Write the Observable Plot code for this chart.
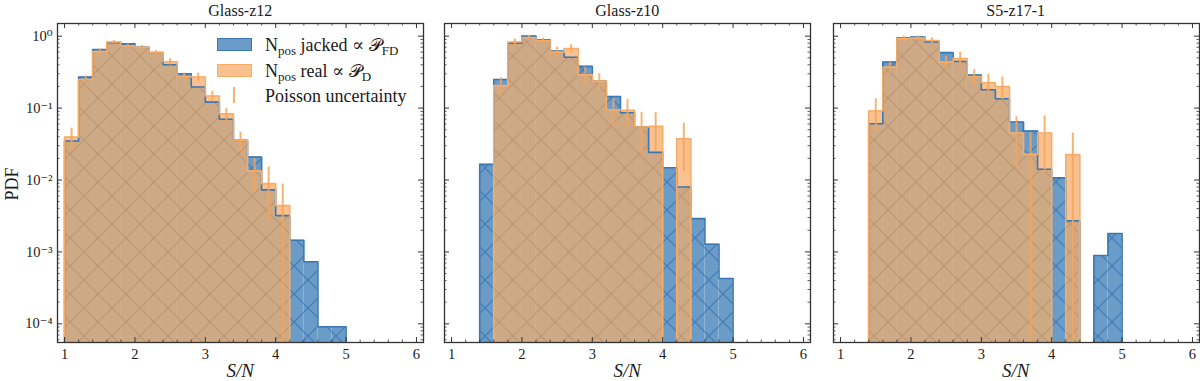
<!DOCTYPE html>
<html><head><meta charset="utf-8">
<script src="https://cdn.jsdelivr.net/npm/d3@7"></script>
<script src="https://cdn.jsdelivr.net/npm/@observablehq/plot@0.6"></script>
<style>
body{margin:0;background:#fff;}
#wrap{position:relative;width:1200px;height:381px;overflow:hidden;font-family:"Liberation Serif","DejaVu Serif",serif;color:#1a1a1a;}
.panel{position:absolute;top:0;}
.title{position:absolute;top:11px;font-size:16px;transform:translate(-50%,-50%);white-space:nowrap;}
.xlab{position:absolute;top:371px;font-size:19px;font-style:italic;transform:translate(-50%,-50%);white-space:nowrap;}
.ylab{position:absolute;left:12px;top:184px;font-size:18px;transform:translate(-50%,-50%) rotate(-90deg);white-space:nowrap;}
.leg{position:absolute;left:217px;top:36px;font-size:18px;width:200px;height:70px;}
.sw{position:absolute;left:0;width:33px;height:11px;}
.lt{position:absolute;left:48px;transform:translateY(-50%);white-space:nowrap;line-height:20px;}
.lt sub{font-size:13px;vertical-align:-4px;line-height:0;}
</style></head><body>
<svg width="0" height="0" style="position:absolute">
<defs>
<pattern id="hatchBlue" patternUnits="userSpaceOnUse" width="28" height="28">
<path d="M0,0L28,28M28,0L0,28" stroke="#3f7ab6" stroke-width="1.1" fill="none"/>
</pattern>
<pattern id="hatchTan" patternUnits="userSpaceOnUse" width="28" height="28">
<path d="M0,0L28,28M28,0L0,28" stroke="#bb9672" stroke-width="1.1" fill="none"/>
</pattern>
</defs>
</svg>
<div id="wrap"></div>
<script>
// ---- data ----
const binEdges = [1.0,1.2,1.4,1.6,1.8,2.0,2.2,2.4,2.6,2.8,3.0,3.2,3.4,3.6,3.8,4.0,4.2,4.4,4.6,4.8,5.0];
const panelTitles = ["Glass-z12","Glass-z10","S5-z17-1"];
const xTickLabels = [1,2,3,4,5,6];
const yTickValues = [1,0.1,0.01,0.001,0.0001];

const z12Jacked = [0.0348,0.27,0.65,0.81,0.78,0.70,0.59,0.40,0.30,0.196,0.121,0.070,0.0356,0.0209,0.0073,0.0032,0.00145,0.00073,0.000091,0.000091];
const z12Real   = [0.0395,0.25,0.61,0.83,0.73,0.70,0.59,0.44,0.275,0.27,0.147,0.083,0.0356,0.0133,0.0089,0.0044,0,0,0,0];
const z12RelErr = [0.33,0.12,0.09,0.05,0.06,0.06,0.07,0.10,0.11,0.13,0.17,0.20,0.30,0.50,0.70,1.0,0,0,0,0];

const z10Jacked = [0,0,0.0165,0.25,0.80,1.0,0.89,0.62,0.51,0.38,0.237,0.145,0.086,0.0545,0.0242,0.0148,0.008,0.0029,0.00128,0.000426];
const z10Real   = [0,0,0,0.206,0.83,0.96,0.87,0.60,0.67,0.29,0.237,0.095,0.093,0.0545,0.0556,0,0.0375,0,0,0];
const z10RelErr = [0,0,0,0.28,0.10,0.07,0.08,0.17,0.14,0.28,0.27,0.42,0.42,0.60,0.55,0,0.65,0,0,0];

const s5Jacked = [0,0,0.0606,0.435,0.94,0.97,0.83,0.59,0.445,0.287,0.18,0.135,0.064,0.048,0.0141,0.0107,0.0027,0,0.00089,0.0018];
const s5Real   = [0,0,0.091,0.37,0.92,0.94,0.87,0.435,0.49,0.275,0.225,0.20,0.045,0.0227,0.045,0,0.0225,0,0,0];
const s5RelErr = [0,0,0.48,0.17,0.09,0.08,0.09,0.20,0.22,0.25,0.30,0.35,0.68,1.0,0.72,0,1.0,0,0,0];

// ---- style ----
const BLUE = "#6b9bc7", BLUE_EDGE = "#3a77b3";
const ORANGE = "#f9c18f", ORANGE_EDGE = "#f6ad68";
const TAN = "#cda985", ERR = "#f7a458";
const AX = "#333";
const FLOOR = 1e-7;
const XD = [0.9, 6.1], YD = [5.5e-5, 1.5];
const MT = 23, MB = 39, H = 381, FW = 366;
const FH = H - MT - MB;

function bars(vals){ return vals.map((v,i)=>({x1:binEdges[i],x2:binEdges[i+1],v})).filter(d=>d.v>0); }
function overlap(a,b){ return a.map((v,i)=>({x1:binEdges[i],x2:binEdges[i+1],v:Math.min(v,b[i])})).filter(d=>d.v>0); }
function outline(vals){
  let first = vals.findIndex(v=>v>0), last = vals.length-1; while(last>=0 && !(vals[last]>0)) last--;
  const pts=[{x:binEdges[first],y:FLOOR}];
  for(let i=first;i<=last;i++) pts.push({x:binEdges[i],y:vals[i]>0?vals[i]:FLOOR});
  pts.push({x:binEdges[last+1],y:vals[last]});
  pts.push({x:binEdges[last+1],y:FLOOR});
  return pts;
}
function errs(vals,rel){
  return vals.map((v,i)=>({x:(binEdges[i]+binEdges[i+1])/2,lo:v*(1-rel[i]) > 0 ? v*(1-rel[i]) : FLOOR,hi:v*(1+rel[i]),v,r:rel[i]})).filter(d=>d.v>0 && d.r>0);
}
const xMinor = d3.range(0,31).map(i=>+(0.8+i*0.2).toFixed(1)).filter(v=>v>XD[0]&&v<XD[1]&&Math.abs(v-Math.round(v))>1e-6);
const yMinor = [];
for(let e=-5;e<=0;e++) for(let k=2;k<=9;k++){const v=k*Math.pow(10,e); if(v>YD[0]&&v<YD[1]) yMinor.push(v);}
const supMap={"-":"\u207B","0":"\u2070","1":"\u00B9","2":"\u00B2","3":"\u00B3","4":"\u2074"};
const fmtY = d => "10" + String(Math.round(Math.log10(d))).split("").map(c=>supMap[c]).join("");

function panel(jacked, real, rel, showY, mL, mR){
  const marks = [
    Plot.rect(bars(jacked),{x1:"x1",x2:"x2",y1:FLOOR,y2:"v",fill:BLUE,clip:true}),
    Plot.rect(bars(jacked),{x1:"x1",x2:"x2",y1:FLOOR,y2:"v",fill:"url(#hatchBlue)",clip:true}),
    Plot.rect(bars(real),{x1:"x1",x2:"x2",y1:FLOOR,y2:"v",fill:ORANGE,clip:true}),
    Plot.rect(overlap(jacked,real),{x1:"x1",x2:"x2",y1:FLOOR,y2:"v",fill:TAN,clip:true}),
    Plot.rect(overlap(jacked,real),{x1:"x1",x2:"x2",y1:FLOOR,y2:"v",fill:"url(#hatchTan)",clip:true}),
    Plot.line(outline(jacked),{x:"x",y:"y",curve:"step-after",stroke:BLUE_EDGE,strokeWidth:1.6,clip:true}),
    Plot.line(outline(real),{x:"x",y:"y",curve:"step-after",stroke:ORANGE_EDGE,strokeWidth:1.6,clip:true}),
    Plot.ruleX(errs(real,rel),{x:"x",y1:"lo",y2:"hi",stroke:ERR,strokeWidth:2,strokeOpacity:0.85,clip:true}),
    // inward ticks
    Plot.ruleX(xTickLabels,{x:d=>d,insetTop:FH-5,stroke:AX,strokeWidth:1}),
    Plot.ruleX(xTickLabels,{x:d=>d,insetBottom:FH-5,stroke:AX,strokeWidth:1}),
    Plot.ruleX(xMinor,{x:d=>d,insetTop:FH-2.5,stroke:AX,strokeWidth:0.8}),
    Plot.ruleX(xMinor,{x:d=>d,insetBottom:FH-2.5,stroke:AX,strokeWidth:0.8}),
    Plot.ruleY(yTickValues,{y:d=>d,insetRight:FW-5,stroke:AX,strokeWidth:1}),
    Plot.ruleY(yTickValues,{y:d=>d,insetLeft:FW-5,stroke:AX,strokeWidth:1}),
    Plot.ruleY(yMinor,{y:d=>d,insetRight:FW-2.5,stroke:AX,strokeWidth:0.8}),
    Plot.ruleY(yMinor,{y:d=>d,insetLeft:FW-2.5,stroke:AX,strokeWidth:0.8}),
    Plot.frame({stroke:AX,strokeWidth:1.3}),
    Plot.axisX({ticks:xTickLabels,tickSize:0,tickPadding:6,label:null,fontSize:14.5,tickFormat:d=>String(d)})
  ];
  if(showY) marks.push(Plot.axisY({ticks:yTickValues,tickSize:0,tickPadding:5,label:null,fontSize:14.5,tickFormat:fmtY}));
  else marks.push(Plot.axisY({ticks:[],label:null}));
  return Plot.plot({
    width: mL+FW+mR, height: H,
    marginLeft: mL, marginRight: mR, marginTop: MT, marginBottom: MB,
    x:{domain:XD}, y:{type:"log",domain:YD},
    style:{fontFamily:'"Liberation Serif","DejaVu Serif",serif',fontSize:"14.5px",color:"#1a1a1a",background:"transparent",overflow:"visible"},
    marks
  });
}

const wrap = document.getElementById("wrap");
const frameLefts = [57.3, 444.3, 832.7];
const specs = [[z12Jacked,z12Real,z12RelErr,true,57,8],[z10Jacked,z10Real,z10RelErr,false,15,8],[s5Jacked,s5Real,s5RelErr,false,15,8]];
specs.forEach((s,i)=>{
  const svg = panel(...s);
  svg.classList.add("panel");
  svg.style.left = (frameLefts[i]-s[4])+"px";
  wrap.appendChild(svg);
  const t = document.createElement("div"); t.className="title"; t.textContent=panelTitles[i];
  t.style.left=(frameLefts[i]+FW/2)+"px"; wrap.appendChild(t);
  const xl = document.createElement("div"); xl.className="xlab"; xl.textContent="S/N";
  xl.style.left=(frameLefts[i]+FW/2)+"px"; wrap.appendChild(xl);
});
const yl = document.createElement("div"); yl.className="ylab"; yl.textContent="PDF"; wrap.appendChild(yl);

// legend
const leg = document.createElement("div"); leg.className="leg";
leg.innerHTML = `
<div class="sw" style="top:2px;background:${BLUE};border:1.5px solid ${BLUE_EDGE};"></div>
<div class="lt" style="top:9px;">N<sub>pos</sub> jacked&nbsp;\u221D&nbsp;\uD835\uDCAB<sub>FD</sub></div>
<div class="sw" style="top:28px;background:${ORANGE};border:1.5px solid ${ORANGE_EDGE};"></div>
<div class="lt" style="top:35px;">N<sub>pos</sub> real&nbsp;\u221D&nbsp;\uD835\uDCAB<sub>D</sub></div>
<div style="position:absolute;left:16px;top:51px;width:2px;height:16px;background:${ERR};opacity:0.85"></div>
<div class="lt" style="top:60px;">Poisson uncertainty</div>`;
wrap.appendChild(leg);
</script>
</body></html>
